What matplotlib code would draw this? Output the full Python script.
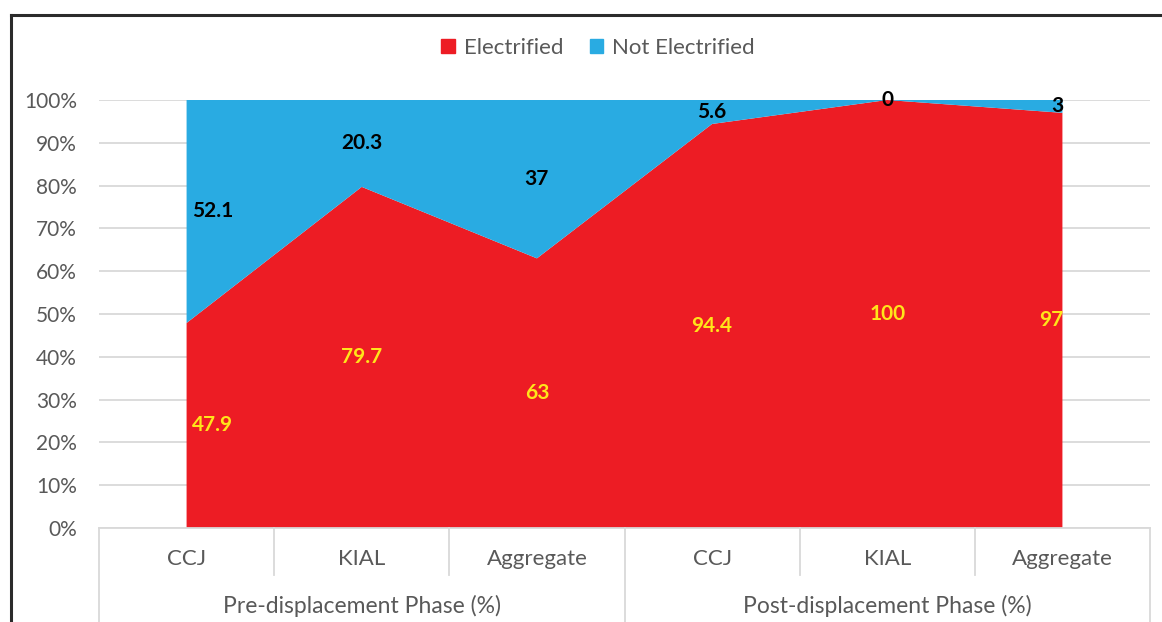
import matplotlib
matplotlib.use('Agg')
import matplotlib.pyplot as plt
from matplotlib.ticker import FuncFormatter
from matplotlib.lines import Line2D
from matplotlib.patches import Patch
import matplotlib.transforms as mtransforms

plt.rcParams['font.family'] = ['Lato', 'DejaVu Sans']

# data
sites = ['CCJ', 'KIAL', 'Aggregate', 'CCJ', 'KIAL', 'Aggregate']
phases = ['Pre-displacement Phase (%)', 'Post-displacement Phase (%)']
electrified = [47.9, 79.7, 63, 94.4, 100, 97]
not_electrified = [52.1, 20.3, 37, 5.6, 0, 3]

red = '#ED1C24'
blue = '#29ABE2'
grey_txt = '#595959'
grid_col = '#D9D9D9'

fig = plt.figure(figsize=(11.62, 6.22), dpi=100)
ax = fig.add_axes([99/1162, 1 - 528/622, (1150 - 99)/1162, 428/622])

x = [i + 0.5 for i in range(len(sites))]
ax.stackplot(x, electrified, not_electrified, colors=[red, blue], zorder=2)

ax.set_xlim(0, 6)
ax.set_ylim(0, 100)
ax.set_yticks(range(0, 101, 10))
ax.yaxis.set_major_formatter(FuncFormatter(lambda v, p: f'{int(v)}%'))
ax.grid(axis='y', color=grid_col, linewidth=1.3, zorder=0)
ax.set_axisbelow(True)
for s in ['top', 'right', 'left']:
    ax.spines[s].set_visible(False)
ax.spines['bottom'].set_color(grid_col)
ax.spines['bottom'].set_linewidth(1.3)
ax.tick_params(axis='y', length=0, pad=16, labelsize=15, labelcolor=grey_txt)
ax.tick_params(axis='x', length=0, pad=15, labelsize=16, labelcolor=grey_txt)
ax.set_xticks(x)
ax.set_xticklabels(sites)

# category separators and outer labels
trans = mtransforms.blended_transform_factory(ax.transData, ax.transAxes)
for i in range(len(sites) + 1):
    low = -0.22 if i % 3 == 0 else -0.11
    ax.add_line(Line2D([i, i], [0, low], transform=trans, color=grid_col,
                       linewidth=1.3, clip_on=False))
for j, ph in enumerate(phases):
    ax.text(j * 3 + 1.5, -0.182, ph, transform=trans, ha='center', va='center',
            fontsize=16.5, color=grey_txt)

# data labels
n = len(sites)
for i in range(n):
    if i == 0:
        ha, dx = 'left', 4
    elif i == n - 1:
        ha, dx = 'right', 1
    else:
        ha, dx = 'center', 0
    ax.annotate(f'{electrified[i]:g}', (x[i], electrified[i] / 2), xytext=(dx, 0),
                textcoords='offset points', ha=ha, va='center', fontsize=15,
                fontweight='bold', color='#FFE51A', zorder=5)
    ax.annotate(f'{not_electrified[i]:g}', (x[i], electrified[i] + not_electrified[i] / 2),
                xytext=(dx, 0), textcoords='offset points', ha=ha, va='center',
                fontsize=15, fontweight='bold', color='black', zorder=5)

# legend
handles = [Patch(color=red, label='Electrified'), Patch(color=blue, label='Not Electrified')]
leg = fig.legend(handles=handles, loc='center', bbox_to_anchor=(598/1162, 1 - 48/622),
                 ncol=2, frameon=False, fontsize=16, handlelength=0.6, handleheight=0.6,
                 handletextpad=0.4, columnspacing=1.2)
for t in leg.get_texts():
    t.set_color(grey_txt)

# chart border (left and top only)
fig.add_artist(Line2D([11/1162, 11/1162], [0, 1 - 15/622], transform=fig.transFigure,
                      color='#2b2b2b', linewidth=2.2))
fig.add_artist(Line2D([11/1162, 1], [1 - 15/622, 1 - 15/622], transform=fig.transFigure,
                      color='#2b2b2b', linewidth=2.2))

fig.savefig('out.png', dpi=100)
